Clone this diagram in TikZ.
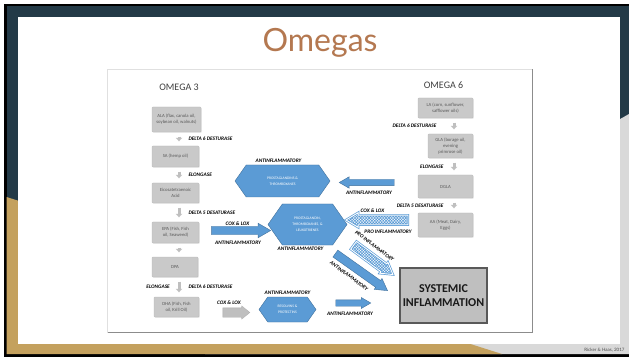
\documentclass[tikz,border=0pt]{standalone}
\usepackage{fontspec}
\setmainfont{Carlito}
\newfontfamily\titlefont{Lato}
\usetikzlibrary{arrows.meta,shapes.arrows,shapes.symbols,positioning,calc,patterns.meta,shadows}

\definecolor{slideteal}{RGB}{35,58,71}
\definecolor{slidegold}{RGB}{196,161,94}
\definecolor{slidegrey}{RGB}{217,217,217}
\definecolor{titlebrown}{RGB}{180,120,80}
\definecolor{omblue}{RGB}{91,155,213}
\definecolor{omline}{RGB}{65,113,156}
\definecolor{boxfill}{RGB}{201,201,201}
\definecolor{boxtext}{RGB}{90,90,90}
\definecolor{arrgrey}{RGB}{191,191,191}

\tikzset{
  omhead/.style={font=\fontsize{10}{12}\selectfont, text=black!75},
  fabox/.style={draw=boxfill!92!black, fill=boxfill, rounded corners=0.8pt, inner sep=0pt,
    align=center, text=boxtext, font=\fontsize{4.7}{6.2}\selectfont,
    drop shadow={shadow xshift=0.7pt, shadow yshift=-0.7pt, opacity=0.25}},
  hexa/.style={signal, signal to=west and east, signal pointer angle=110, fill=omblue,
    draw=omline, line width=0.4pt, inner sep=0pt, align=center, text=white,
    font=\fontsize{3.7}{6}\selectfont},
  barrow/.style={single arrow, fill=omblue, draw=omline, line width=0.4pt, inner xsep=0pt,
    single arrow tip angle=60},
  parrow/.style={single arrow, draw=omblue, line width=0.7pt, double=white, double distance=0.9pt,
    inner xsep=0pt, pattern={Hatch[angle=45, distance=2pt, line width=0.6pt]}, pattern color=omblue,
    single arrow tip angle=62},
  garrow/.style={single arrow, fill=arrgrey, draw=arrgrey!90!black, line width=0.3pt,
    inner xsep=0pt, single arrow tip angle=78},
  grarrow/.style={draw=arrgrey, line width=3pt,
    -{Triangle[width=6.5pt, length=3.5pt, line width=0pt]},
    shorten <=4.5pt, shorten >=4.5pt},
  lbl/.style={font=\fontsize{5.3}{6}\selectfont\bfseries\itshape, text=black, inner sep=0pt},
  sysbox/.style={draw=black!65, line width=2.2pt, fill=black!25, align=center, inner sep=0pt,
    font=\fontsize{12}{14}\selectfont\bfseries, text=black!90}
}

\begin{document}
\begin{tikzpicture}[x=1pt, y=-1pt]
\useasboundingbox (0,0) rectangle (629,358);
% Slide background
\fill[white] (0,0) rectangle (629,358);
\fill[black] (4,4) rectangle (629,357);
\fill[slideteal] (6.5,6.5) rectangle (629,354);
\fill[slidegrey] (629,114) -- (205,354) -- (629,354) -- cycle;
\fill[slidegold] (6.5,197) -- (502,354) -- (6.5,354) -- cycle;
\fill[white] (17.5,17.5) rectangle (620,343.5);
\node[font=\titlefont\fontsize{32}{34}\selectfont, text=titlebrown, anchor=base] (title) at (320,52) {Omegas};
\node[font=\titlefont\fontsize{4.5}{5}\selectfont, text=black!70, anchor=base east] (credit) at (628,351) {Ricker \& Haas, 2017};

% Diagram frame
\draw[black!12] (107.5,69.5) rectangle (532,332.5);
\draw[black!45, line width=0.8pt] (532,69.5) -- (532,332.5) -- (107.5,332.5);

% Omega 3 column
\node[omhead] (om3) at (179,87) {OMEGA 3};
\node[fabox, minimum width=49pt, minimum height=25pt] (ala) at (176.5,119.5) {ALA (flax, canola oil,\\soybean oil, walnuts)};
\node[fabox, minimum width=47pt, minimum height=21pt] (sa) at (175.5,156.5) {SA (hemp oil)};
\node[fabox, minimum width=47pt, minimum height=20pt] (eic) at (175.5,193) {Eicosatetraenoic\\Acid};
\node[fabox, minimum width=47pt, minimum height=21pt] (epa) at (175.5,232.5) {EPA (Fish, Fish\\oil, Seaweed)};
\node[fabox, minimum width=46pt, minimum height=20pt] (dpa) at (175,267) {DPA};
\node[fabox, minimum width=45pt, minimum height=20pt] (dha) at (176.5,307) {DHA (Fish, Fish\\oil, Krill Oil)};
\coordinate (col3) at (179,0);
\foreach \a/\b/\t in {ala/sa/DELTA 6 DESTURASE, sa/eic/ELONGASE, eic/epa/DELTA 5 DESATURASE, epa/dpa/, dpa/dha/DELTA 6 DESTURASE} {
  \draw[grarrow] (\a.south -| col3) -- node[lbl, right=8pt] {\t} (\b.north -| col3);
}
\node[lbl, anchor=east] at ($(dpa.south -| col3)!0.5!(dha.north -| col3)+(-9,0)$) {ELONGASE};

% Omega 6 column
\node[omhead] (om6) at (443.5,85) {OMEGA 6};
\node[fabox, minimum width=55pt, minimum height=20pt] (la) at (445.5,108) {LA (corn, sunflower,\\safflower oils)};
\node[fabox, minimum width=45pt, minimum height=24pt] (gla) at (450.5,146) {GLA (borage oil,\\evening\\primrose oil)};
\node[fabox, minimum width=55pt, minimum height=23pt] (dgla) at (445.5,186.5) {DGLA};
\node[fabox, minimum width=55pt, minimum height=24pt] (aa) at (445.5,225) {AA (Meat, Dairy,\\Eggs)};
\coordinate (col6) at (454,0);
\draw[grarrow] (la.south -| col6) -- node[lbl, left=16pt] {DELTA 6 DESTURASE} (gla.north -| col6);
\draw[grarrow] (gla.south -| col6) -- node[lbl, left=9pt] {ELONGASE} (dgla.north -| col6);
\draw[grarrow] (dgla.south -| col6) -- node[lbl, left=9pt] {DELTA 5 DESATURASE} (aa.north -| col6);

% Eicosanoids
\node[hexa, minimum width=95pt, minimum height=32pt] (pgtx) at (282.5,181) {PROSTAGLANDINS \&\\THROMBOXANES};
\node[hexa, minimum width=79pt, minimum height=41pt] (pglt) at (307.5,224.5) {PROSTAGLANDIN,\\THROMBOXANES, \&\\LEUKOTRIENES};
\node[hexa, minimum width=57pt, minimum height=25pt] (rvpt) at (287.5,309.5) {RESOLVINS \&\\PROTECTINS};
\node[lbl, above=2pt of pgtx, xshift=-4pt] {ANTINFLAMMATORY};
\node[lbl, below=2pt of pglt, xshift=-7pt] {ANTINFLAMMATORY};
\node[lbl, above=2pt of rvpt] {ANTINFLAMMATORY};

% Block arrows
\node[barrow, minimum height=59pt, inner ysep=4pt, single arrow head extend=3pt] (aepa) at (237.5,230.5) {};
\node[lbl] at ($(aepa)+(0,-6.5)$) {COX \& LOX};
\node[lbl] at ($(aepa)+(0.5,12.5)$) {ANTINFLAMMATORY};
\node[garrow, minimum height=27pt, inner ysep=4.5pt, single arrow head extend=2pt] (acox) at (233.5,312.5) {};
\node[lbl] at ($(acox)+(-4.5,-9.5)$) {COX \& LOX};
\node[barrow, minimum height=35pt, inner ysep=3pt, single arrow head extend=2.3pt] (ares) at (350.5,303) {};
\node[lbl] at ($(ares)+(-0.5,11)$) {ANTINFLAMMATORY};
\node[barrow, minimum height=55pt, inner ysep=3pt, single arrow head extend=2.5pt, rotate=180] (adgla) at (369.5,182.5) {};
\node[lbl] at ($(adgla)+(-0.5,10.5)$) {ANTINFLAMMATORY};
\node[parrow, minimum height=62pt, inner ysep=4.5pt, single arrow head extend=2.5pt, rotate=180] (aaa) at (381,220) {};
\node[lbl] at ($(aaa)+(-8.5,-9.5)$) {COX \& LOX};
\node[lbl] at ($(aaa)+(7,12)$) {PRO INFLAMMATORY};
\node[parrow, minimum height=49pt, inner ysep=4.5pt, single arrow head extend=2pt, rotate=-36.6] (pdiag) at (370,257.5) {};
\node[lbl, rotate=-37] at ($(pdiag)+(4.5,-11.5)$) {PRO INFLAMMATORY};
\node[barrow, minimum height=64pt, inner ysep=4pt, single arrow head extend=2.5pt, rotate=-35.4] (sdiag) at (358.5,270) {};
\node[lbl, rotate=-37] at ($(sdiag)+(-9.5,6)$) {ANTINFLAMMATORY};

% Outcome
\node[sysbox, minimum width=87pt, minimum height=55pt] (sysinf) at (443.5,295.5) {SYSTEMIC\\INFLAMMATION};
\end{tikzpicture}
\end{document}
